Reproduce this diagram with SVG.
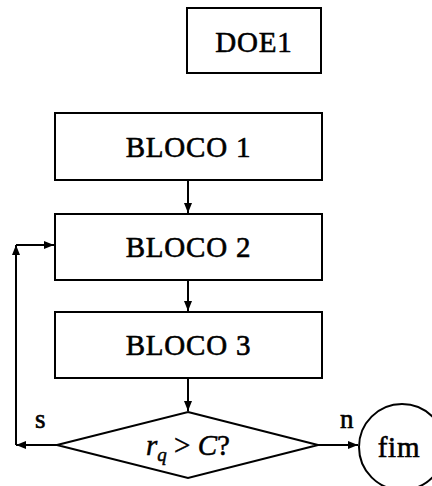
<svg xmlns="http://www.w3.org/2000/svg" width="432" height="486" viewBox="0 0 432 486">
<defs>
<style>
.box{fill:#fff;stroke:#000;stroke-width:2}
.lbl{font-family:"Liberation Serif",serif;font-size:29px;fill:#000;text-anchor:middle;stroke:#000;stroke-width:0.6;letter-spacing:0.8px}
.cn{fill:none;stroke:#000;stroke-width:2}
.sm{font-family:"Liberation Serif",serif;font-size:27px;fill:#000;stroke:#000;stroke-width:0.6}
</style>
<marker id="ah" viewBox="0 0 10 10" refX="10" refY="5" markerWidth="5" markerHeight="5" orient="auto" markerUnits="strokeWidth">
<path d="M0,1 L10,5 L0,9 Z" fill="#000"/>
</marker>
</defs>
<g id="doe1">
<rect class="box" x="187" y="8" width="134" height="65"/>
<text class="lbl" x="254" y="52">DOE1</text>
</g>
<g id="bloco1">
<rect class="box" x="55" y="113" width="267" height="67"/>
<text class="lbl" x="188.5" y="157">BLOCO 1</text>
</g>
<g id="bloco2">
<rect class="box" x="55" y="214" width="267" height="66"/>
<text class="lbl" x="188.5" y="257">BLOCO 2</text>
</g>
<g id="bloco3">
<rect class="box" x="55" y="312" width="267" height="66"/>
<text class="lbl" x="188.5" y="355">BLOCO 3</text>
</g>
<g id="decisao">
<polygon class="box" points="188,412 318,445 188,478 57,445"/>
<text x="188" y="455" font-family="Liberation Serif, serif" font-size="29" text-anchor="middle" stroke="#000" stroke-width="0.5"><tspan font-style="italic">r</tspan><tspan font-style="italic" font-size="19" dy="6">q</tspan><tspan dy="-6"> &gt; </tspan><tspan font-style="italic">C</tspan><tspan>?</tspan></text>
</g>
<g id="fim">
<circle class="box" cx="402" cy="447" r="43"/>
<text class="lbl" x="399" y="457">fim</text>
</g>
<g id="connectors">
<line class="cn" x1="188" y1="180" x2="188" y2="213" marker-end="url(#ah)"/>
<line class="cn" x1="188" y1="280" x2="188" y2="311" marker-end="url(#ah)"/>
<line class="cn" x1="188" y1="378" x2="188" y2="411" marker-end="url(#ah)"/>
<line class="cn" x1="57" y1="445" x2="16" y2="445" marker-end="url(#ah)"/>
<line class="cn" x1="16" y1="445" x2="16" y2="245" marker-end="url(#ah)"/>
<line class="cn" x1="16" y1="245" x2="54" y2="245" marker-end="url(#ah)"/>
<line class="cn" x1="318" y1="445" x2="358" y2="445" marker-end="url(#ah)"/>
<text class="sm" x="35" y="428">s</text>
<text class="sm" x="340" y="428">n</text>
</g>
</svg>
